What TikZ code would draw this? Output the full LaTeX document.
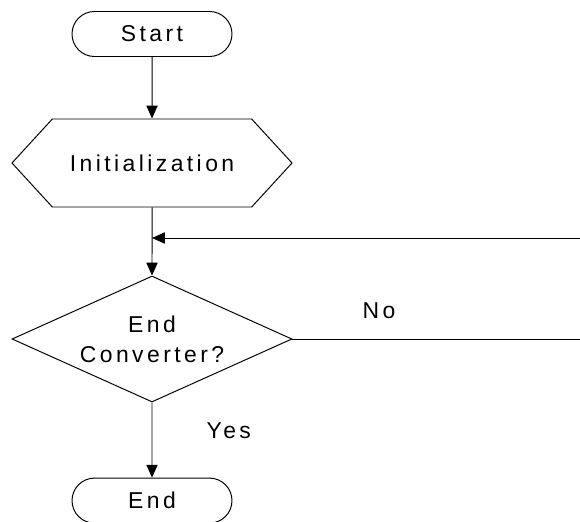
\documentclass[tikz,border=0pt]{standalone}
\usepackage{fontspec}
\newfontfamily\flowfont{Liberation Sans}[LetterSpace=15]
\usetikzlibrary{shapes.misc, shapes.geometric, shapes.symbols, arrows.meta, positioning}

\begin{document}
\begin{tikzpicture}[
		terminal/.style = {draw, rounded rectangle, minimum width=4cm, minimum height=1.125cm, inner sep=0pt},
		% Bloque de preparacion (hexagono)
		prep_block/.style = {draw, signal, signal to=west and east, signal pointer angle=95, minimum width=7cm, minimum height=2.2cm, inner sep=0pt},
		decision/.style = {draw, diamond, aspect=2.22, minimum width=7cm, minimum height=3.15cm, inner sep=0pt, align=center},
		label_txt/.style = {inner sep=0pt},
		every node/.style = {font=\flowfont\fontsize{16.3pt}{21.3pt}\selectfont},
		line width=0.7pt,
		>={Triangle[length=0.32cm, width=0.28cm]}
		]
		\useasboundingbox (0,0) rectangle (14.5,-13.025);
		
		% --- BLOQUES ---
		\node [terminal] (start) at (3.8, -0.85) {Start};
		\node [prep_block] (init) at (3.8, -4.075) {Initialization};
		\node [decision] (cond) at (3.8, -8.475) {End\\Converter?};
		\node [terminal] (stop) at (3.8, -12.515) {End};
		
		% Extremos libres a la derecha
		\coordinate (loop_in) at (14.6, -5.95);
		\coordinate (no_end) at (14.6, -8.475);
		\coordinate (merge) at (init.south |- loop_in);
		
		% --- CONEXIONES ---
		\draw [->] (start) -- (init);
		\draw [->] (init) -- (cond);
		\draw [->] (loop_in) -- (merge);
		\draw (cond.east) -- (no_end);
		\draw [->] (cond) -- (stop);
		
		% --- ETIQUETAS ---
		\node [label_txt] (no_lbl) at (9.475, -7.78) {No};
		\node [label_txt] (yes_lbl) at (5.72, -10.78) {Yes};
		
	\end{tikzpicture}
\end{document}
